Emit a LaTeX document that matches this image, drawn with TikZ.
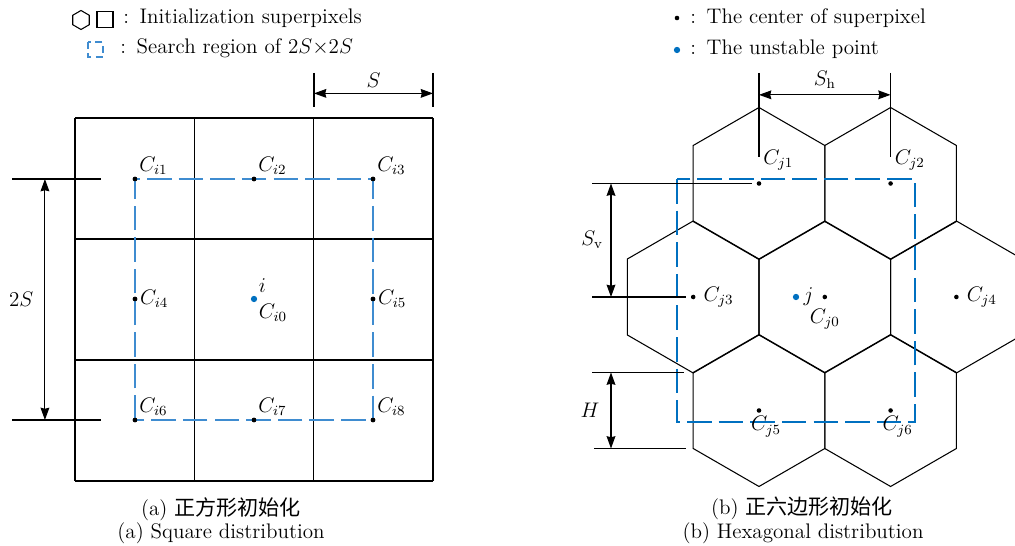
\documentclass[tikz,border=0pt]{standalone}
\usepackage{fontspec}
\newfontfamily\cjk{Noto Sans CJK SC}
\usetikzlibrary{arrows.meta,positioning,calc}
\definecolor{sblue}{HTML}{3F8CD0}
\definecolor{dblue}{HTML}{0070C0}

\begin{document}
\begin{tikzpicture}[>={Stealth[length=7pt,width=5pt,inset=0.6pt]},x=0.02cm,y=-0.02cm,
 font=\fontsize{12}{14}\selectfont,line width=0.6pt,
 dot/.style={circle,fill=black,inner sep=0pt,minimum size=2.6pt},
 udot/.style={circle,fill=dblue,inner sep=0pt,minimum size=3.6pt},
 lbl/.style={inner sep=1pt},
 srch/.style={sblue,line width=0.8pt,dash pattern=on 14pt off 4pt}]
\useasboundingbox (0,0) rectangle (1015,546);
\def\R{76}
% legend
\draw (81,20) +(90:9.5) -- +(30:9.5) -- +(-30:9.5) -- +(-90:9.5) -- +(-150:9.5) -- +(150:9.5) -- cycle;
\draw (97,11.5) rectangle (113,27.5);
\node[anchor=west] (lg1) at (117,18) {:\hspace{6pt}Initialization superpixels};
\draw[sblue,line width=0.8pt,dash pattern=on 4pt off 2.5pt] (88,42) rectangle (103,57);
\node[anchor=west] (lg2) at (114,48) {:\hspace{6pt}Search region of $2S{\times}2S$};
\node[dot] (lgd1) at (677,18) {};
\node[anchor=west] (lg3) at (684,18) {:\hspace{6pt}The center of superpixel};
\node[udot] (lgd2) at (677,50) {};
\node[anchor=west] (lg4) at (684,49) {:\hspace{6pt}The unstable point};
% square distribution
\foreach \x in {75,194.3,313.7,433} \draw (\x,118) -- (\x,481);
\foreach \y in {118,239,360,481} \draw (75,\y) -- (433,\y);
\foreach \n/\x/\y in {1/135/179,2/254/179,3/373/179,4/135/299,5/373/299,6/135/420,7/254/420,8/373/420}
 \node[dot] (ci\n) at (\x,\y) {};
\draw[srch] (ci6.center) -- (ci4.center) -- (ci1.center) -- (ci2.center) -- (ci3.center) -- (ci5.center) -- (ci8.center) -- (ci7.center) -- cycle;
\foreach \n/\x/\y in {1/135/179,2/254/179,3/373/179,4/135/299,5/373/299,6/135/420,7/254/420,8/373/420}
 \node[dot] at (ci\n) {};
\foreach \n/\p in {1/above right,2/above right,3/above right,4/right,5/right,6/above right,7/above right,8/above right}
 \node[lbl,\p=0pt of ci\n] (li\n) {$C_{i\n}$};
\node[udot] (ui) at (254,299) {};
\node[lbl,above right=1pt and 0pt of ui] (lui) {$i$};
\node[lbl,below right=0pt of ui] (li0) {$C_{i0}$};
\coordinate (sa) at (314,73); \coordinate (sb) at (433,73);
\coordinate (sa2) at (314,107); \coordinate (sb2) at (433,107);
\draw (sa) -- (sa2) (sb) -- (sb2);
\draw[<->] ($(sa)!0.6!(sa2)$) -- ($(sb)!0.6!(sb2)$) node[midway,above] (ls) {$S$};
\coordinate (ta) at (12,179); \coordinate (ta2) at (101,179);
\coordinate (tb) at (12,420); \coordinate (tb2) at (101,420);
\draw (ta) -- (ta2) (tb) -- (tb2);
\draw[<->] ($(ta)!0.37!(ta2)$) -- ($(tb)!0.37!(tb2)$) node[midway,left=3pt] (l2s) {$2S$};
\node (capa1) at (221,509) {(a) {\cjk 正方形初始化}};
\node (capa2) at (221,533) {(a) Square distribution};
% hexagonal distribution
\begin{scope}
\clip (560,60) rectangle (1015,546);
\foreach \n/\x/\y in {1/759/183.5,2/890.6/183.5,3/693.2/297,0/824.8/297,4/956.4/297,5/759/410.5,6/890.6/410.5}
 \draw (\x,\y) +(90:\R) -- +(30:\R) -- +(-30:\R) -- +(-90:\R) -- +(-150:\R) -- +(150:\R) -- cycle;
\end{scope}
\coordinate (r1) at (677,179); \coordinate (r2) at (915,422);
\draw[srch,dblue] (r1) rectangle (r2);
\foreach \n/\x/\y in {1/759/183.5,2/890.6/183.5,3/693.2/297,0/824.8/297,4/956.4/297,5/759/410.5,6/890.6/410.5}
 \node[dot] (cj\n) at (\x,\y) {};
\node[lbl,above right=5pt and 0pt of cj1] (lj1) {$C_{j1}$};
\node[lbl,above right=5pt and 0pt of cj2] (lj2) {$C_{j2}$};
\node[lbl,right=3pt of cj3] (lj3) {$C_{j3}$};
\node[lbl,right=3pt of cj4] (lj4) {$C_{j4}$};
\node[lbl,below=4pt of cj0] (lj0) {$C_{j0}$};
\node[lbl,below=0.5pt of cj5,xshift=4pt] (lj5) {$C_{j5}$};
\node[lbl,below=0.5pt of cj6,xshift=4pt] (lj6) {$C_{j6}$};
\node[udot] (uj) at (796,297) {};
\node[lbl,right=1pt of uj] (luj) {$j$};
\coordinate (ha) at (759,73); \coordinate (ha2) at (759,157);
\coordinate (hb) at (890.6,73); \coordinate (hb2) at (890.6,157);
\draw (ha) -- (ha2) (hb) -- (hb2);
\draw[<->] ($(ha)!0.26!(ha2)$) -- ($(hb)!0.26!(hb2)$) node[midway,above] (lsh) {$S_\mathrm{h}$};
\coordinate (va) at (592,183.5); \coordinate (va2) at (752,183.5);
\coordinate (vb) at (592,297); \coordinate (vb2) at (686,297);
\draw (va) -- (va2) (vb) -- (vb2);
\draw[<->] (611,183.5) -- (611,297) node[midway,left=1pt] (lsv) {$S_\mathrm{v}$};
\coordinate (wa) at (592,372.5); \coordinate (wa2) at (684,372.5);
\coordinate (wb) at (594,448.5); \coordinate (wb2) at (686,448.5);
\draw (wa) -- (wa2) (wb) -- (wb2);
\draw[<->] (611,372.5) -- (611,448.5) node[midway,left=3pt] (lh) {$H$};
\node (capb1) at (802,508) {(b) {\cjk 正六边形初始化}};
\node (capb2) at (803,533) {(b) Hexagonal distribution};
\end{tikzpicture}
\end{document}
